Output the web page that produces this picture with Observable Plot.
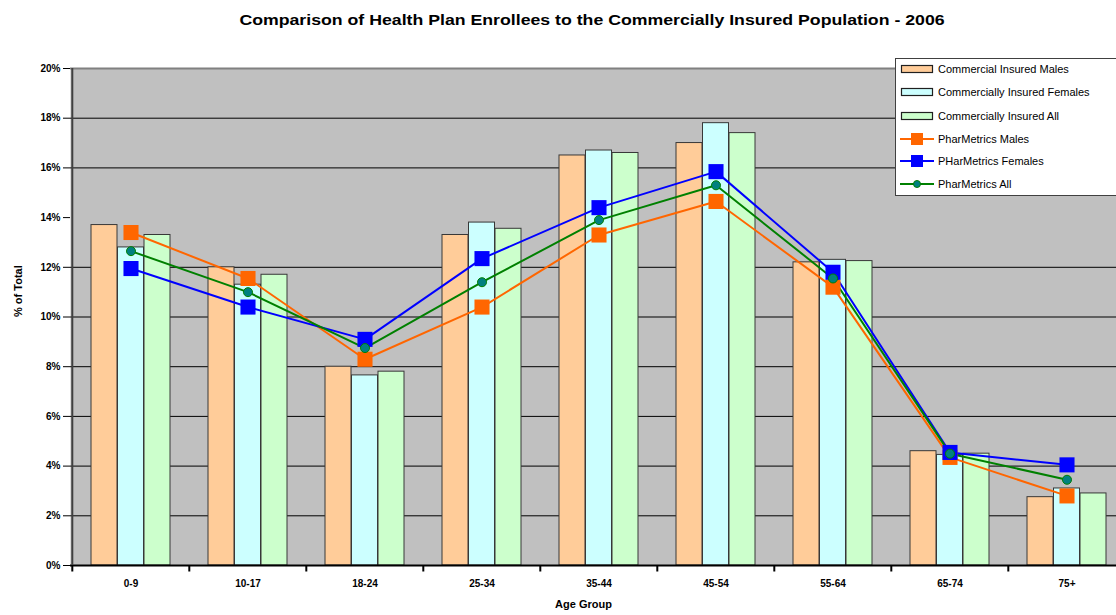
<!DOCTYPE html>
<html>
<head>
<meta charset="utf-8">
<script src="https://cdn.jsdelivr.net/npm/d3@7"></script>
<script src="https://cdn.jsdelivr.net/npm/@observablehq/plot@0.6"></script>
<style>
  html, body { margin: 0; padding: 0; background: #fff; }
  #wrap { position: relative; width: 1116px; height: 615px; overflow: hidden; font-family: "Liberation Sans", Arial, sans-serif; }
  #title { position: absolute; left: 0; top: 0; width: 1184px; height: 40px; line-height: 40px; text-align: center; font-size: 15px; font-weight: bold; color: #000; transform: scaleX(1.18); transform-origin: 592px 20px; }
  #chart { position: absolute; left: 0; top: 40px; }
  #legend { position: absolute; left: 895px; top: 58px; width: 240px; height: 138px; background: #fff; border: 1px solid #404040; box-sizing: border-box; }
  .row { position: absolute; left: 4px; height: 16px; display: flex; align-items: center; font-size: 11px; color: #000; white-space: nowrap; }
  .row svg { margin-right: 4px; }
</style>
</head>
<body>
<div id="wrap">
  <div id="title">Comparison of Health Plan Enrollees to the Commercially Insured Population - 2006</div>
  <div id="chart"></div>
  <div id="legend"></div>
</div>
<script>
const ageGroups   = ["0-9", "10-17", "18-24", "25-34", "35-44", "45-54", "55-64", "65-74", "75+"];
const commMales   = [13.7, 12.0, 8.0, 13.3, 16.5, 17.0, 12.2, 4.6, 2.75];
const commFemales = [12.8, 11.3, 7.65, 13.8, 16.7, 17.8, 12.3, 4.45, 3.1];
const commAll     = [13.3, 11.7, 7.8, 13.55, 16.6, 17.4, 12.25, 4.5, 2.9];
const pmMales     = [13.4, 11.55, 8.3, 10.4, 13.3, 14.65, 11.2, 4.35, 2.8];
const pmFemales   = [11.95, 10.4, 9.1, 12.35, 14.4, 15.85, 11.8, 4.55, 4.05];
const pmAll       = [12.65, 11.0, 8.75, 11.4, 13.9, 15.3, 11.55, 4.5, 3.45];
const yTicks      = [0, 2, 4, 6, 8, 10, 12, 14, 16, 18, 20];
const gridLines   = [2, 4, 6, 8, 10, 12, 16, 18];
const seriesNames = ["Commercial Insured Males", "Commercially Insured Females", "Commercially Insured All",
                     "PharMetrics Males", "PHarMetrics Females", "PharMetrics All"];

const table = ageGroups.map((age, i) => ({
  age, cm: commMales[i], cf: commFemales[i], ca: commAll[i],
  pm: pmMales[i], pf: pmFemales[i], pa: pmAll[i]
}));

const tickSymbol = { draw(ctx) { ctx.moveTo(0, 0); ctx.lineTo(0, 6); } };

const barStroke = "#383838";
const chart = Plot.plot({
  width: 1116,
  height: 575,
  marginTop: 28,
  marginBottom: 50,
  marginLeft: 70,
  marginRight: 0,
  style: { fontFamily: "Liberation Sans, Arial, sans-serif", fontSize: "10px", fontWeight: "bold", color: "#000", background: "transparent", overflow: "hidden" },
  x: { domain: ageGroups, range: [70, 1127], padding: 0, label: null, tickSize: 0, tickPadding: 14 },
  y: { domain: [0, 20], ticks: yTicks, tickFormat: d => d + "%", label: null, tickSize: 7, tickPadding: 3 },
  marks: [
    Plot.frame({ fill: "#c0c0c0" }),
    Plot.ruleY(gridLines, { stroke: "#000", strokeWidth: 1 }),
    Plot.ruleY([20], { stroke: "#808080", strokeWidth: 2 }),
    Plot.barY(table, { x: "age", y: "cm", fill: "#ffcc99", stroke: barStroke, strokeWidth: 1, insetLeft: 19, insetRight: 72 }),
    Plot.barY(table, { x: "age", y: "cf", fill: "#ccffff", stroke: barStroke, strokeWidth: 1, insetLeft: 45.5, insetRight: 45.5 }),
    Plot.barY(table, { x: "age", y: "ca", fill: "#ccffcc", stroke: barStroke, strokeWidth: 1, insetLeft: 72, insetRight: 19 }),
    Plot.line(table, { x: "age", y: "pm", stroke: "#ff6600", strokeWidth: 2 }),
    Plot.line(table, { x: "age", y: "pf", stroke: "#0000ff", strokeWidth: 2 }),
    Plot.line(table, { x: "age", y: "pa", stroke: "#008000", strokeWidth: 2 }),
    Plot.dot(table, { x: "age", y: "pm", symbol: "square", r: 8.5, fill: "#ff6600" }),
    Plot.dot(table, { x: "age", y: "pf", symbol: "square", r: 8.5, fill: "#0000ff" }),
    Plot.dot(table, { x: "age", y: "pa", r: 4.5, fill: "#008080", stroke: "#008000", strokeWidth: 1 }),
    Plot.ruleY([0], { stroke: "#000", strokeWidth: 2 }),
    Plot.ruleX([0], { x: () => ageGroups[0], dx: -58.7, stroke: "#404040", strokeWidth: 2 }),
    Plot.dot(ageGroups, { x: d => d, y: () => 0, dx: -58.7, symbol: tickSymbol, stroke: "#000", strokeWidth: 2, r: 3 }),
    Plot.text(["Age Group"], { frameAnchor: "bottom", dy: 42, fontSize: 11, fontWeight: "bold", dx: -10 }),
    Plot.text(["% of Total"], { frameAnchor: "left", rotate: -90, dx: -52, fontSize: 11, fontWeight: "bold" })
  ]
});
document.getElementById("chart").appendChild(chart);

// Legend
const legend = document.getElementById("legend");
const swatches = [
  { type: "bar", fill: "#ffcc99" },
  { type: "bar", fill: "#ccffff" },
  { type: "bar", fill: "#ccffcc" },
  { type: "line", color: "#ff6600", marker: "square" },
  { type: "line", color: "#0000ff", marker: "square" },
  { type: "line", color: "#008000", marker: "circle" }
];
const rowCenters = [10, 33, 57, 80, 102, 125];
seriesNames.forEach((name, i) => {
  const s = swatches[i];
  const row = document.createElement("div");
  row.className = "row";
  row.style.top = (rowCenters[i] - 8) + "px";
  let svg;
  if (s.type === "bar") {
    svg = `<svg width="34" height="16"><rect x="1.5" y="4.5" width="31" height="7" fill="${s.fill}" stroke="#202020" stroke-width="1.2"/></svg>`;
  } else {
    const m = s.marker === "square"
      ? `<rect x="11" y="2" width="12" height="12" fill="${s.color}"/>`
      : `<circle cx="17" cy="8" r="3.5" fill="#008080" stroke="#008000"/>`;
    svg = `<svg width="34" height="16"><line x1="0" y1="8" x2="34" y2="8" stroke="${s.color}" stroke-width="2"/>${m}</svg>`;
  }
  row.innerHTML = svg + `<span>${name}</span>`;
  legend.appendChild(row);
});
</script>
</body>
</html>
